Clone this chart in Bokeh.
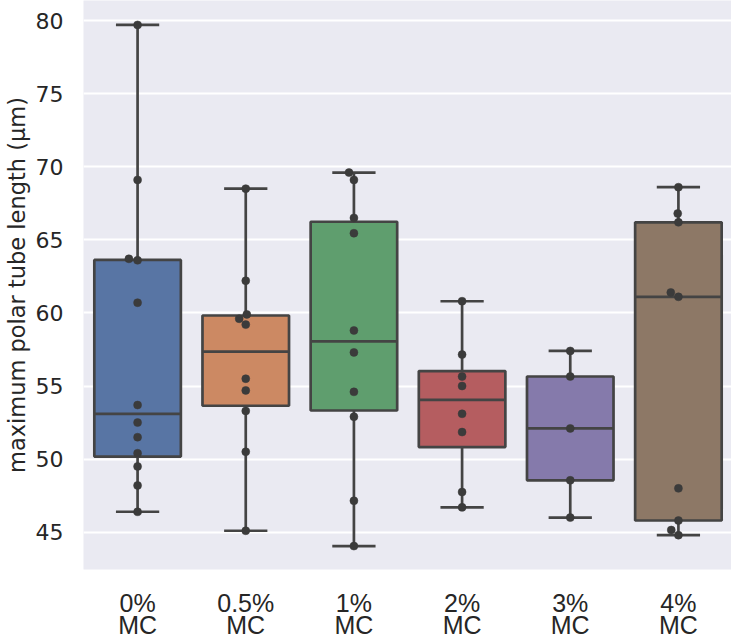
import numpy as np
from bokeh.plotting import figure
from bokeh.models import FixedTicker, Range1d
from bokeh.embed import file_html
from bokeh.resources import INLINE

categories = ["0%\nMC", "0.5%\nMC", "1%\nMC", "2%\nMC", "3%\nMC", "4%\nMC"]
g0 = [79.7, 69.1, 63.7, 63.6, 60.7, 53.7, 52.5, 51.5, 50.4, 49.5, 48.2, 46.4]
g1 = [68.5, 62.2, 59.9, 59.6, 59.2, 55.5, 54.7, 53.3, 50.5, 45.1]
g2 = [69.6, 69.1, 66.5, 65.45, 58.8, 57.3, 54.6, 52.9, 47.15, 44.05]
g3 = [60.8, 57.15, 55.65, 55.0, 53.1, 51.85, 47.75, 46.7]
g4 = [57.4, 55.65, 52.1, 48.55, 46.0]
g5 = [68.6, 66.8, 66.2, 61.4, 61.1, 48.0, 45.8, 45.15, 44.8]
groups = [g0, g1, g2, g3, g4, g5]
colors = ["#5875A4", "#CC8963", "#5F9E6E", "#B55D60", "#857AAB", "#8D7866"]
y_ticks = [45, 50, 55, 60, 65, 70, 75, 80]
y_label = "maximum polar tube length (μm)"

LINE = "#444444"
PT = "#3b3b3b"
TXT = "#262626"

FW, FH = 649, 569
Y0, Y1 = 42.45, 81.37
X0, X1 = -0.5, 5.5
xs_px = FW / (X1 - X0)
ys_px = FH / (Y1 - Y0)

p = figure(width=731, height=639, output_backend="svg", toolbar_location=None,
           x_range=Range1d(X0, X1), y_range=Range1d(Y0, Y1),
           min_border_left=75, min_border_right=0, min_border_top=0, min_border_bottom=70,
           frame_width=FW, frame_height=FH)
p.background_fill_color = "#EAEAF2"
p.border_fill_color = "white"
p.outline_line_color = None
p.xgrid.grid_line_color = None
p.ygrid.grid_line_color = "white"
p.ygrid.grid_line_width = 2

p.yaxis.ticker = FixedTicker(ticks=y_ticks)
p.xaxis.ticker = FixedTicker(ticks=list(range(len(categories))))
p.xaxis.major_label_overrides = {i: c for i, c in enumerate(categories)}
for ax in (p.xaxis, p.yaxis):
    ax.axis_line_color = None
    ax.major_tick_line_color = None
    ax.minor_tick_line_color = None
    ax.major_tick_out = 0
    ax.major_tick_in = 0
    ax.major_label_text_color = TXT
p.yaxis.major_label_text_font = "DejaVu Sans"
p.yaxis.major_label_text_font_size = "22px"
p.yaxis.major_label_standoff = 20
p.yaxis.axis_label = y_label
p.yaxis.axis_label_text_font = "DejaVu Sans"
p.yaxis.axis_label_text_font_size = "22.5px"
p.yaxis.axis_label_text_font_style = "normal"
p.yaxis.axis_label_text_color = TXT
p.yaxis.axis_label_standoff = 3
p.xaxis.major_label_text_font = "Liberation Sans"
p.xaxis.major_label_text_font_size = "25px"
p.xaxis.major_label_text_line_height = 0.8
p.xaxis.major_label_standoff = 19


def swarm(vals, d=8.8):
    order = np.argsort(vals, kind="stable")
    placed = []
    offs = np.zeros(len(vals))
    for i in order:
        y = vals[i] * ys_px
        cands = [0.0]
        for xo, yo in placed:
            dy = abs(y - yo)
            if dy < d:
                dx = np.sqrt(d * d - dy * dy)
                cands += [xo - dx, xo + dx]
        cands = sorted(cands, key=lambda c: (round(abs(c), 6), c))
        for c in cands:
            if all(np.hypot(c - xo, y - yo) >= d - 1e-6 for xo, yo in placed):
                offs[i] = c
                placed.append((c, y))
                break
    return offs / xs_px


for i, (g, col) in enumerate(zip(groups, colors)):
    v = np.array(g, dtype=float)
    q1, med, q3 = np.percentile(v, [25, 50, 75])
    iqr = q3 - q1
    lo = v[v >= q1 - 1.5 * iqr].min()
    hi = v[v <= q3 + 1.5 * iqr].max()
    p.segment(x0=[i, i], y0=[q1, q3], x1=[i, i], y1=[lo, hi], line_color=LINE, line_width=2.7)
    p.segment(x0=[i - 0.2, i - 0.2], y0=[lo, hi], x1=[i + 0.2, i + 0.2], y1=[lo, hi],
              line_color=LINE, line_width=2.7)
    p.vbar(x=[i], width=0.8, bottom=[q1], top=[q3], fill_color=col,
           line_color=LINE, line_width=2.7)
    p.segment(x0=[i - 0.4], y0=[med], x1=[i + 0.4], y1=[med], line_color=LINE, line_width=2.7)
    offs = swarm(v)
    p.scatter(x=i + offs, y=v, size=8, fill_color=PT, line_color=PT, line_width=0.5)

open("out.html", "w").write(file_html(p, INLINE))
